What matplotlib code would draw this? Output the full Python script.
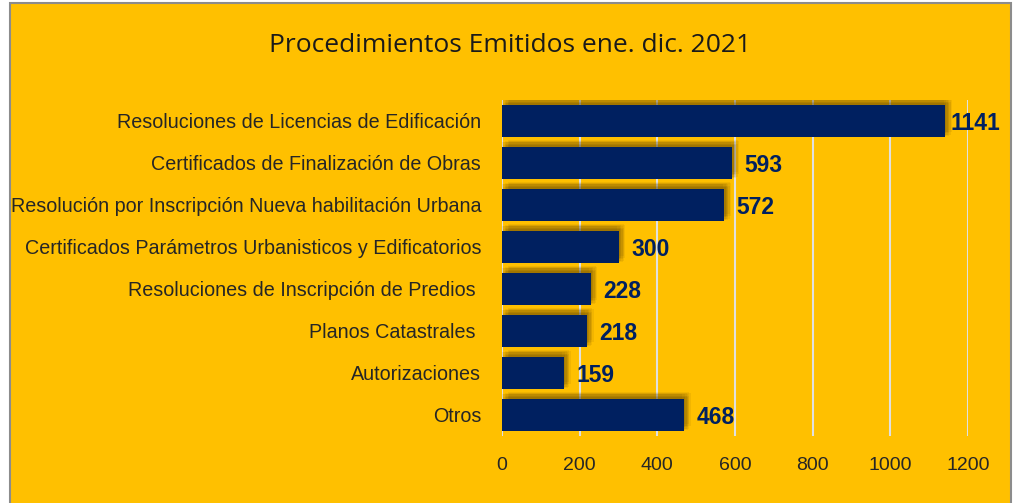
import matplotlib.pyplot as plt
import matplotlib.patheffects as pe
from matplotlib.patches import Rectangle

categories = [
    "Resoluciones de Licencias de Edificación",
    "Certificados de Finalización de Obras",
    "Resolución por Inscripción Nueva habilitación Urbana",
    "Certificados Parámetros Urbanisticos y Edificatorios",
    "Resoluciones de Inscripción de Predios ",
    "Planos Catastrales ",
    "Autorizaciones",
    "Otros",
]
values = [1141, 593, 572, 300, 228, 218, 159, 468]
xticks = [0, 200, 400, 600, 800, 1000, 1200]

bg = "#FFC000"
navy = "#002060"

fig = plt.figure(figsize=(10.17, 5.03), dpi=100, facecolor="white")
fig.patches.append(Rectangle((10 / 1017, -0.01), 1001 / 1017, 1 - 3 / 503 + 0.01,
                             transform=fig.transFigure, facecolor=bg,
                             edgecolor="#8c8c8c", linewidth=1.5, zorder=-10))

ax = fig.add_axes([502 / 1017, 1 - 436 / 503, 466 / 1017, 336 / 503])
ax.set_facecolor("none")

# soft drop shadow, mostly up and to the right
shadow = []
for dx, dy in [(1, 1), (2, 2), (3, 3), (4, 2), (2, 4), (3, 1), (1, 3), (5, 4), (4, 5), (-1, 3)]:
    shadow.append(pe.SimplePatchShadow(offset=(dx, dy), shadow_rgbFace="#5a4000", alpha=0.08))
shadow.append(pe.Normal())

ypos = list(range(len(categories)))
bars = ax.barh(ypos, values, height=0.78, color=navy, zorder=3)
for b in bars:
    b.set_path_effects(shadow)

for y, v in zip(ypos, values):
    ax.annotate(str(v), (v, y), xytext=(4 if v > 1000 else 9, -2), textcoords="offset points",
                ha="left", va="center", color=navy, fontsize=16.5, fontweight="bold",
                family=["Liberation Sans Narrow", "Liberation Sans", "DejaVu Sans"], zorder=5)

ax.set_xlim(0, 1200)
ax.set_ylim(len(categories) - 0.5, -0.5)
ax.set_xticks(xticks)
ax.set_yticks(ypos)
ax.set_yticklabels(categories)
ax.grid(axis="x", color="#e0e0e0", linewidth=1.5, zorder=0)
ax.set_axisbelow(True)
for s in ax.spines.values():
    s.set_visible(False)
ax.tick_params(axis="both", length=0, colors="#262626")
ax.tick_params(axis="y", pad=15, labelsize=14.2)
ax.tick_params(axis="x", pad=15, labelsize=14)
for lab in ax.get_xticklabels() + ax.get_yticklabels():
    lab.set_family(["Liberation Sans Narrow", "Liberation Sans", "DejaVu Sans"])

fig.text(510 / 1017, 1 - 45 / 503, "Procedimientos Emitidos ene. dic. 2021", ha="center",
         va="center", fontsize=19, color="#1a1a1a", family=["Open Sans", "DejaVu Sans"])

fig.savefig("out.png", dpi=100, facecolor="white")
